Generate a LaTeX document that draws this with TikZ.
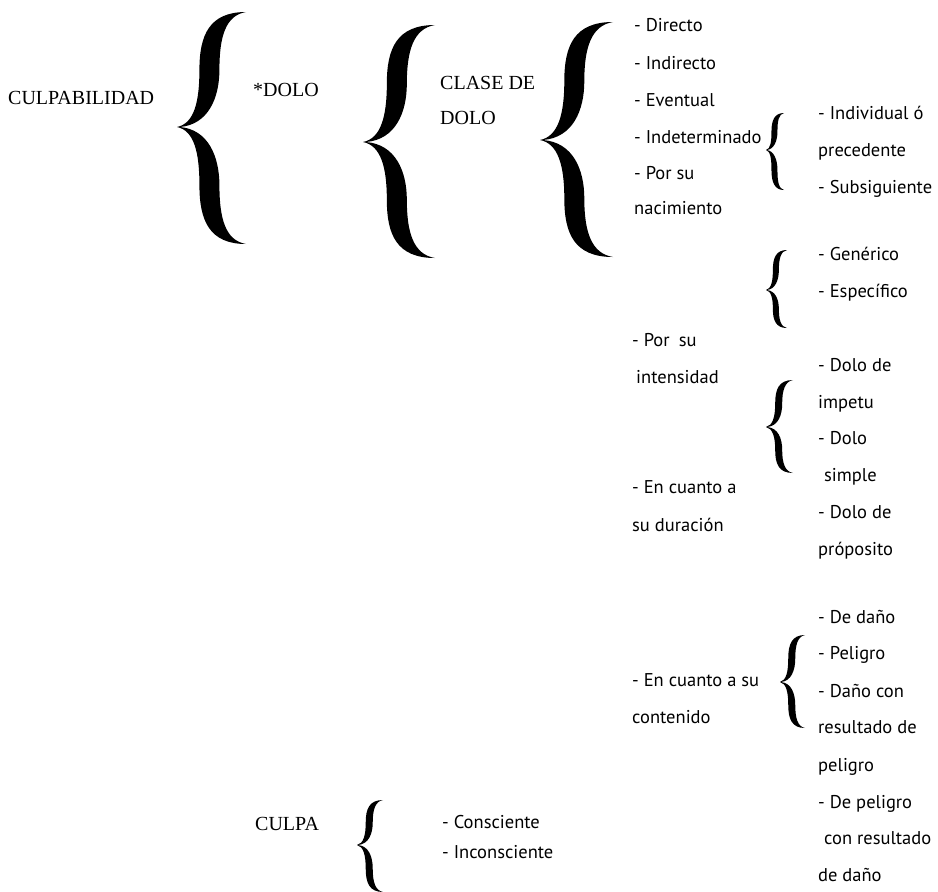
\documentclass[tikz,border=0pt]{standalone}
\usepackage{fontspec}
\setmainfont{Liberation Serif}
\newfontfamily\listfont{PT Sans}
% filled curly brace: tip x, tip y, end x, top y, bottom y, thickness (y grows downward)
\newcommand\mybrace[6]{%
  \pgfmathsetmacro\brW{#3-#1}%
  \pgfmathsetmacro\brA{#1+0.47*\brW}%
  \pgfmathsetmacro\brL{\brA-#6/2}%
  \pgfmathsetmacro\brR{\brA+#6/2}%
  \pgfmathsetmacro\brHu{#2-#4}%
  \pgfmathsetmacro\brHd{#5-#2}%
  \pgfmathsetmacro\brMu{#4+0.5*\brHu}%
  \pgfmathsetmacro\brMd{#2+0.5*\brHd}%
  \fill (#3,#4) .. controls (\brA,#4) and (\brL,#4+0.2*\brHu) .. (\brL,\brMu)
    .. controls (\brL,#2-0.22*\brHu) and (#1+0.25*\brW,#2-0.03*\brHu) .. (#1,#2)
    .. controls (#1+0.25*\brW,#2+0.03*\brHd) and (\brL,#2+0.22*\brHd) .. (\brL,\brMd)
    .. controls (\brL,#5-0.2*\brHd) and (\brA,#5) .. (#3,#5)
    .. controls (#3-0.3*\brW,#5-0.03*\brHd) and (\brR,#5-0.22*\brHd) .. (\brR,\brMd)
    .. controls (\brR,#2+0.25*\brHd) and (#1+0.45*\brW,#2+0.02*\brHd) .. (#1+0.04*\brW,#2)
    .. controls (#1+0.45*\brW,#2-0.02*\brHu) and (\brR,#2-0.25*\brHu) .. (\brR,\brMu)
    .. controls (\brR,#4+0.22*\brHu) and (#3-0.3*\brW,#4+0.03*\brHu) .. (#3,#4) -- cycle;%
}
\begin{document}
\begin{tikzpicture}[x=1pt,y=-1pt,
  headtxt/.style={anchor=base west, inner sep=0pt, font=\fontsize{20}{24}\selectfont},
  itemtxt/.style={anchor=base west, inner sep=0pt, font=\listfont\fontsize{18.5}{22}\selectfont}]
\useasboundingbox (0,0) rectangle (938,892);
\fill[white] (0,0) rectangle (938,892);

% braces
\mybrace{177}{127}{246}{12}{244}{20}
\mybrace{363}{142}{435}{25}{258}{20}
\mybrace{540}{140}{613}{22}{257}{20}
\mybrace{766}{150}{784}{113}{190}{6}
\mybrace{766}{290}{787}{250}{328}{6}
\mybrace{766}{427}{793}{380}{473}{7}
\mybrace{780}{682}{805}{635}{728}{7}
\mybrace{357}{845}{383}{800}{892}{7}

% headings
\node[headtxt] (culpabilidad) at (8,104) {CULPABILIDAD};
\node[headtxt] (dolo) at (253,96) {*DOLO};
\node[headtxt] (clase1) at (440,89) {CLASE DE};
\node[headtxt] (clase2) at (440,124) {DOLO};
\node[headtxt] (culpa) at (255,830) {CULPA};

% column A
\node[itemtxt] (directo) at (634,31) {- Directo};
\node[itemtxt] (indirecto) at (634,69) {- Indirecto};
\node[itemtxt] (eventual) at (634,106) {- Eventual};
\node[itemtxt] (indet) at (634,143) {- Indeterminado};
\node[itemtxt] (porsu) at (634,179) {- Por su};
\node[itemtxt] (nacim) at (634,214) {nacimiento};
\node[itemtxt] (porsu2) at (632,346) {- Por\hspace{0.5em}su};
\node[itemtxt] (intens) at (636,383) {intensidad};
\node[itemtxt] (encuanto) at (632,493) {- En cuanto a};
\node[itemtxt] (sudur) at (632,531) {su duración};
\node[itemtxt] (encuanto2) at (632,686) {- En cuanto a su};
\node[itemtxt] (conten) at (632,723) {contenido};

% column B
\node[itemtxt] (indiv) at (818,119) {- Individual ó};
\node[itemtxt] (preced) at (818,156) {precedente};
\node[itemtxt] (subsig) at (818,193) {- Subsiguiente};
\node[itemtxt] (gener) at (818,260) {- Genérico};
\node[itemtxt] (especif) at (818,297) {- Específico};
\node[itemtxt] (dolode1) at (818,371) {- Dolo de};
\node[itemtxt] (impetu) at (818,408) {impetu};
\node[itemtxt] (dolo2) at (818,444) {- Dolo};
\node[itemtxt] (simple) at (824,481) {simple};
\node[itemtxt] (dolode2) at (818,518) {- Dolo de};
\node[itemtxt] (proposito) at (818,555) {próposito};
\node[itemtxt] (dedano) at (818,623) {- De daño};
\node[itemtxt] (peligro) at (818,659) {- Peligro};
\node[itemtxt] (danocon) at (818,697) {- Daño con};
\node[itemtxt] (resultado) at (818,733) {resultado de};
\node[itemtxt] (peligro2) at (818,771) {peligro};
\node[itemtxt] (depeligro) at (818,808) {- De peligro};
\node[itemtxt] (conres) at (824,844) {con resultado};
\node[itemtxt] (dedano2) at (818,881) {de daño};

% culpa items
\node[itemtxt] (consc) at (442,828) {- Consciente};
\node[itemtxt] (inconsc) at (442,858) {- Inconsciente};
\end{tikzpicture}
\end{document}
